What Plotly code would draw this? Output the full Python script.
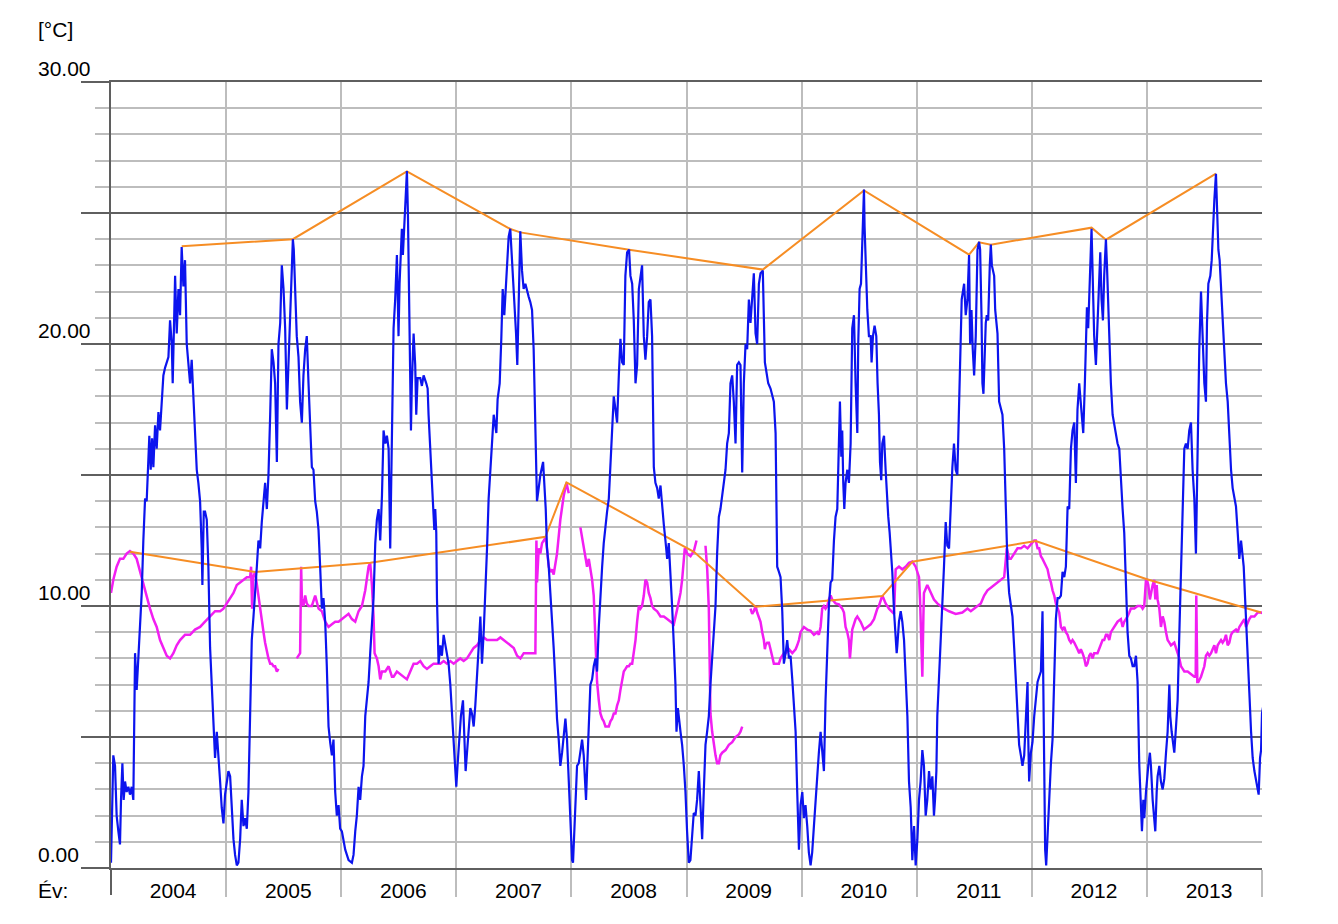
import plotly.graph_objects as go

# daily air temperature (blue) as (decimal year, degC)
air = [
    (2004.000,0.2),(2004.012,2.6),(2004.020,4.3),(2004.035,3.9),(2004.049,2.0),(2004.064,1.4),(2004.078,0.9),(2004.087,2.6),
    (2004.099,4.0),(2004.110,2.6),(2004.122,3.3),(2004.136,2.9),(2004.151,3.1),(2004.165,2.8),(2004.180,3.1),(2004.194,2.6),
    (2004.203,5.2),(2004.209,8.2),(2004.223,6.8),(2004.238,8.2),(2004.252,9.0),(2004.267,10.5),(2004.281,12.5),(2004.296,14.1),
    (2004.310,14.0),(2004.325,16.0),(2004.333,16.5),(2004.345,15.2),(2004.357,16.4),(2004.368,15.3),(2004.383,16.9),(2004.397,16.0),
    (2004.412,17.4),(2004.426,16.7),(2004.441,18.0),(2004.455,18.8),(2004.470,19.1),(2004.484,19.3),(2004.499,19.5),(2004.513,20.9),
    (2004.528,20.0),(2004.536,18.5),(2004.548,20.8),(2004.557,22.6),(2004.571,20.4),(2004.586,22.1),(2004.600,21.1),(2004.614,23.7),
    (2004.629,22.2),(2004.643,23.2),(2004.658,20.0),(2004.672,19.4),(2004.687,18.5),(2004.701,19.4),(2004.716,17.8),(2004.730,16.4),
    (2004.745,15.2),(2004.759,14.7),(2004.774,14.0),(2004.788,12.2),(2004.794,10.8),(2004.806,13.6),(2004.817,13.6),(2004.832,13.3),
    (2004.846,11.5),(2004.861,8.4),(2004.875,7.0),(2004.890,5.8),(2004.904,4.2),(2004.919,5.2),(2004.933,4.4),(2004.948,3.3),
    (2004.962,2.3),(2004.977,1.7),(2004.991,2.8),
    (2005.006,3.4),(2005.020,3.7),(2005.035,3.5),(2005.049,2.1),(2005.064,1.1),(2005.078,0.5),(2005.093,0.1),(2005.107,0.2),
    (2005.122,1.1),(2005.136,2.6),(2005.151,1.6),(2005.165,1.9),(2005.180,1.5),(2005.194,2.9),(2005.209,6.4),(2005.223,8.7),
    (2005.238,9.6),(2005.252,10.4),(2005.267,11.5),(2005.281,12.5),(2005.296,12.2),(2005.310,13.2),(2005.325,14.1),(2005.339,14.7),
    (2005.354,13.7),(2005.368,15.0),(2005.383,17.3),(2005.397,19.8),(2005.412,19.3),(2005.426,18.5),(2005.441,15.5),(2005.455,20.0),
    (2005.470,20.8),(2005.484,23.0),(2005.499,22.1),(2005.513,20.6),(2005.528,17.5),(2005.536,18.5),(2005.557,21.1),(2005.571,23.6),
    (2005.580,24.0),(2005.588,23.6),(2005.600,21.7),(2005.614,20.3),(2005.629,19.5),(2005.643,17.8),(2005.658,17.0),(2005.672,18.8),
    (2005.687,19.8),(2005.701,20.3),(2005.716,18.5),(2005.730,16.9),(2005.745,15.3),(2005.759,15.2),(2005.774,14.0),(2005.788,13.6),
    (2005.803,12.9),(2005.817,11.5),(2005.832,9.9),(2005.846,10.3),(2005.861,9.4),(2005.875,7.7),(2005.890,5.4),(2005.904,4.8),
    (2005.919,4.3),(2005.933,4.9),(2005.948,2.9),(2005.962,2.0),(2005.977,2.4),(2005.991,1.5),
    (2006.006,1.4),(2006.035,0.7),(2006.064,0.3),(2006.093,0.2),(2006.107,0.5),(2006.122,1.4),(2006.136,2.0),(2006.151,3.1),
    (2006.165,2.6),(2006.180,3.5),(2006.194,3.9),(2006.209,5.8),(2006.223,6.4),(2006.238,7.1),(2006.252,8.2),(2006.267,9.2),
    (2006.281,10.3),(2006.296,12.4),(2006.310,13.3),(2006.325,13.7),(2006.339,12.5),(2006.354,14.2),(2006.368,16.7),(2006.383,16.2),
    (2006.397,16.5),(2006.412,16.0),(2006.426,12.2),(2006.455,20.6),(2006.469,21.7),(2006.484,23.4),(2006.490,21.1),(2006.498,20.3),
    (2006.507,22.3),(2006.527,24.4),(2006.536,23.4),(2006.548,24.5),(2006.565,26.1),(2006.571,26.6),(2006.580,24.9),(2006.591,21.1),
    (2006.606,16.7),(2006.614,18.5),(2006.629,20.4),(2006.643,19.2),(2006.652,17.3),(2006.664,18.7),(2006.687,18.7),(2006.701,18.4),
    (2006.716,18.8),(2006.739,18.5),(2006.751,18.3),(2006.759,17.3),(2006.774,16.0),(2006.788,14.7),(2006.803,13.7),(2006.809,12.9),
    (2006.817,13.7),(2006.826,12.8),(2006.832,10.3),(2006.838,8.4),(2006.846,7.8),(2006.861,8.5),(2006.875,8.1),(2006.890,8.9),
    (2006.904,8.5),(2006.919,8.1),(2006.933,7.8),(2006.948,7.0),(2006.962,5.8),(2006.977,4.7),(2006.991,3.7),
    (2007.000,3.1),(2007.012,4.0),(2007.026,4.9),(2007.040,5.8),(2007.058,6.4),(2007.069,5.2),(2007.081,3.7),(2007.093,4.4),
    (2007.107,5.4),(2007.122,6.1),(2007.136,5.9),(2007.151,5.4),(2007.165,6.2),(2007.180,7.6),(2007.194,8.4),(2007.209,9.6),
    (2007.223,7.8),(2007.238,9.0),(2007.252,10.3),(2007.267,12.2),(2007.281,14.1),(2007.296,15.0),(2007.310,16.2),(2007.325,17.3),
    (2007.348,16.6),(2007.359,17.9),(2007.377,18.5),(2007.391,20.2),(2007.403,22.1),(2007.417,21.1),(2007.429,22.2),(2007.440,23.2),
    (2007.455,24.1),(2007.469,24.4),(2007.484,23.2),(2007.498,22.1),(2007.507,21.7),(2007.519,20.4),(2007.530,19.2),(2007.545,23.0),
    (2007.556,24.3),(2007.571,22.8),(2007.585,22.1),(2007.600,22.3),(2007.614,22.0),(2007.629,21.8),(2007.643,21.6),(2007.658,21.3),
    (2007.672,19.8),(2007.681,17.9),(2007.690,15.3),(2007.701,14.0),(2007.716,14.5),(2007.730,15.0),(2007.754,15.5),(2007.765,14.7),
    (2007.777,13.7),(2007.788,12.2),(2007.803,11.5),(2007.817,10.5),(2007.832,9.6),(2007.846,8.4),(2007.861,7.1),(2007.875,5.7),
    (2007.890,4.9),(2007.904,3.9),(2007.919,4.4),(2007.933,5.2),(2007.948,5.7),(2007.962,4.9),(2007.977,3.1),(2007.991,1.4),
    (2008.006,0.3),(2008.014,0.2),(2008.026,1.6),(2008.038,3.0),(2008.049,3.9),(2008.064,4.0),(2008.078,4.4),(2008.093,4.9),
    (2008.107,4.3),(2008.122,2.9),(2008.127,2.6),(2008.136,3.7),(2008.151,5.8),(2008.165,7.0),(2008.180,7.2),(2008.194,7.7),
    (2008.209,8.0),(2008.223,7.5),(2008.238,9.2),(2008.252,10.5),(2008.267,11.5),(2008.281,12.4),(2008.296,13.1),(2008.310,13.6),
    (2008.325,14.1),(2008.339,15.3),(2008.354,16.6),(2008.368,18.0),(2008.383,17.5),(2008.397,17.0),(2008.412,18.8),(2008.426,20.2),
    (2008.441,19.3),(2008.455,19.2),(2008.469,22.6),(2008.484,23.5),(2008.501,23.6),(2008.513,22.6),(2008.528,22.3),(2008.542,20.9),
    (2008.557,18.5),(2008.571,19.2),(2008.586,22.1),(2008.600,22.6),(2008.614,23.0),(2008.629,20.3),(2008.643,19.4),(2008.658,20.3),
    (2008.672,21.6),(2008.687,21.7),(2008.701,20.3),(2008.716,15.3),(2008.730,14.7),(2008.745,14.5),(2008.759,14.1),(2008.774,14.6),
    (2008.788,13.7),(2008.803,13.1),(2008.817,12.5),(2008.832,11.8),(2008.846,12.4),(2008.861,11.3),(2008.875,10.0),(2008.890,8.5),
    (2008.904,7.0),(2008.913,5.2),(2008.925,6.1),(2008.948,5.2),(2008.962,4.7),(2008.977,3.9),(2008.991,2.9),
    (2009.005,1.4),(2009.020,0.2),(2009.034,0.3),(2009.049,1.4),(2009.063,2.1),(2009.078,2.0),(2009.092,2.6),(2009.107,3.7),
    (2009.121,2.3),(2009.136,1.1),(2009.150,2.9),(2009.165,4.7),(2009.179,5.2),(2009.194,5.8),(2009.208,7.0),(2009.223,8.0),
    (2009.237,8.7),(2009.252,10.0),(2009.266,12.0),(2009.281,13.4),(2009.295,13.7),(2009.310,14.3),(2009.324,14.7),(2009.339,15.2),
    (2009.353,16.2),(2009.368,16.6),(2009.382,18.5),(2009.397,18.8),(2009.411,17.8),(2009.426,16.2),(2009.440,19.2),(2009.455,19.3),
    (2009.469,19.2),(2009.484,15.1),(2009.498,18.5),(2009.513,20.0),(2009.527,19.8),(2009.542,21.7),(2009.556,20.8),(2009.571,21.8),
    (2009.585,22.7),(2009.600,20.4),(2009.614,20.0),(2009.629,22.3),(2009.643,22.7),(2009.663,22.8),(2009.672,21.1),(2009.681,19.3),
    (2009.692,19.0),(2009.710,18.5),(2009.730,18.3),(2009.745,18.0),(2009.759,17.8),(2009.774,16.6),(2009.782,13.7),(2009.788,11.5),
    (2009.803,11.3),(2009.817,11.1),(2009.832,9.8),(2009.846,7.8),(2009.861,8.2),(2009.875,8.7),(2009.890,8.0),(2009.904,8.1),
    (2009.919,7.2),(2009.933,6.4),(2009.948,5.2),(2009.962,2.9),(2009.977,0.7),(2009.991,2.4),
    (2010.006,2.9),(2010.020,1.9),(2010.034,2.4),(2010.049,1.6),(2010.063,0.6),(2010.078,0.1),(2010.092,0.6),(2010.107,1.6),
    (2010.121,2.6),(2010.136,3.4),(2010.150,4.4),(2010.165,5.2),(2010.179,4.5),(2010.194,3.7),(2010.208,6.4),(2010.223,8.1),
    (2010.237,10.0),(2010.252,10.9),(2010.266,11.0),(2010.281,12.5),(2010.295,13.4),(2010.310,13.7),(2010.324,16.4),(2010.333,17.8),
    (2010.345,15.7),(2010.353,16.7),(2010.362,14.7),(2010.371,13.7),(2010.382,14.7),(2010.397,15.2),(2010.411,14.7),(2010.426,16.2),
    (2010.440,20.6),(2010.455,21.1),(2010.469,18.5),(2010.484,16.6),(2010.492,20.0),(2010.504,22.1),(2010.516,22.3),(2010.527,24.2),
    (2010.542,25.9),(2010.547,24.5),(2010.556,23.0),(2010.571,21.3),(2010.585,20.3),(2010.600,20.3),(2010.608,19.3),(2010.620,20.3),
    (2010.634,20.7),(2010.649,20.3),(2010.660,18.5),(2010.672,17.3),(2010.681,15.5),(2010.692,14.8),(2010.701,16.2),(2010.716,16.5),
    (2010.730,15.2),(2010.745,13.7),(2010.753,13.4),(2010.765,12.8),(2010.774,12.3),(2010.788,11.3),(2010.803,9.8),(2010.817,8.7),
    (2010.826,8.2),(2010.832,8.5),(2010.846,9.4),(2010.861,9.8),(2010.875,9.4),(2010.890,8.7),(2010.904,7.0),(2010.919,5.8),
    (2010.933,3.3),(2010.948,2.3),(2010.962,0.3),(2010.977,1.6),(2010.991,0.1),
    (2011.006,1.1),(2011.020,2.6),(2011.034,3.3),(2011.049,4.5),(2011.063,3.9),(2011.078,2.0),(2011.092,2.6),(2011.107,3.7),
    (2011.121,3.0),(2011.136,3.5),(2011.150,2.0),(2011.159,2.6),(2011.171,3.7),(2011.179,5.8),(2011.194,7.2),(2011.208,8.4),
    (2011.223,10.3),(2011.237,11.5),(2011.252,13.2),(2011.266,12.3),(2011.281,12.2),(2011.295,14.1),(2011.310,15.3),(2011.324,16.2),
    (2011.339,15.2),(2011.353,15.0),(2011.368,17.9),(2011.382,19.8),(2011.391,21.7),(2011.412,22.3),(2011.426,21.1),(2011.441,21.7),
    (2011.455,23.4),(2011.464,20.0),(2011.476,21.3),(2011.487,19.8),(2011.499,18.8),(2011.513,20.3),(2011.528,23.6),(2011.542,23.9),
    (2011.551,23.6),(2011.563,21.1),(2011.571,18.5),(2011.580,18.1),(2011.592,20.3),(2011.600,20.8),(2011.609,21.1),(2011.621,20.9),
    (2011.635,23.0),(2011.644,23.8),(2011.653,23.0),(2011.664,22.8),(2011.673,22.6),(2011.682,21.3),(2011.690,20.8),(2011.702,20.4),
    (2011.716,17.8),(2011.731,17.5),(2011.745,17.3),(2011.760,16.0),(2011.774,13.7),(2011.789,11.5),(2011.803,10.5),(2011.818,10.0),
    (2011.832,9.6),(2011.847,8.4),(2011.861,7.0),(2011.876,5.8),(2011.890,4.7),(2011.905,4.3),(2011.919,3.9),(2011.934,4.3),
    (2011.948,5.8),(2011.957,7.0),(2011.963,7.1),(2011.968,5.2),(2011.977,3.3),(2011.992,4.4),
    (2012.006,4.8),(2012.021,5.8),(2012.035,6.4),(2012.050,7.1),(2012.064,7.3),(2012.079,7.5),(2012.093,9.8),(2012.102,5.2),
    (2012.108,2.6),(2012.116,0.7),(2012.125,0.1),(2012.137,1.4),(2012.151,2.6),(2012.166,4.0),(2012.180,4.9),(2012.195,7.7),
    (2012.209,9.5),(2012.224,10.3),(2012.238,10.3),(2012.253,10.4),(2012.267,11.3),(2012.282,11.1),(2012.296,11.5),(2012.311,13.8),
    (2012.325,13.7),(2012.340,16.0),(2012.354,16.7),(2012.369,17.0),(2012.383,14.7),(2012.397,17.5),(2012.412,18.5),(2012.421,18.0),
    (2012.432,17.3),(2012.447,16.6),(2012.461,18.5),(2012.470,20.3),(2012.479,21.4),(2012.490,20.6),(2012.502,22.3),(2012.519,24.4),
    (2012.534,21.7),(2012.542,20.3),(2012.557,19.2),(2012.571,21.1),(2012.586,23.0),(2012.595,23.5),(2012.606,21.7),(2012.618,20.9),
    (2012.629,22.6),(2012.644,24.0),(2012.653,23.0),(2012.664,21.3),(2012.676,19.8),(2012.687,18.5),(2012.702,17.3),(2012.716,16.9),
    (2012.731,16.5),(2012.745,16.2),(2012.760,16.0),(2012.774,14.7),(2012.789,13.7),(2012.803,12.8),(2012.818,10.9),(2012.832,9.0),
    (2012.847,8.1),(2012.861,8.0),(2012.876,7.7),(2012.890,7.7),(2012.905,8.1),(2012.919,7.1),(2012.934,3.9),(2012.948,2.0),
    (2012.957,1.4),(2012.969,2.6),(2012.977,1.9),(2012.992,2.9),
    (2013.000,3.4),(2013.012,3.9),(2013.026,4.4),(2013.035,3.9),(2013.050,2.6),(2013.064,1.9),(2013.073,1.4),(2013.085,2.9),
    (2013.093,3.5),(2013.108,3.9),(2013.122,3.3),(2013.137,3.0),(2013.151,3.4),(2013.166,4.4),(2013.180,5.2),(2013.195,7.0),
    (2013.203,5.8),(2013.215,5.2),(2013.226,4.7),(2013.238,4.4),(2013.253,5.4),(2013.267,6.4),(2013.282,9.0),(2013.296,11.5),
    (2013.311,14.1),(2013.325,16.0),(2013.339,16.2),(2013.354,16.0),(2013.368,16.7),(2013.383,17.0),(2013.397,15.2),(2013.412,14.1),
    (2013.426,12.0),(2013.441,17.0),(2013.455,19.8),(2013.470,22.0),(2013.484,20.3),(2013.499,18.5),(2013.513,17.8),(2013.522,20.8),
    (2013.534,22.3),(2013.551,22.6),(2013.563,23.2),(2013.574,24.5),(2013.586,25.5),(2013.600,26.5),(2013.609,25.3),(2013.621,23.6),
    (2013.632,23.2),(2013.644,22.1),(2013.658,21.1),(2013.673,20.0),(2013.687,18.5),(2013.702,17.8),(2013.716,16.5),(2013.731,15.2),
    (2013.745,14.5),(2013.760,14.2),(2013.774,13.8),(2013.789,12.8),(2013.803,11.8),(2013.818,12.5),(2013.832,11.9),(2013.841,11.5),
    (2013.853,10.3),(2013.864,9.0),(2013.876,8.1),(2013.890,6.7),(2013.905,5.2),(2013.919,4.2),(2013.934,3.7),(2013.948,3.4),
    (2013.963,3.1),(2013.971,2.8),(2013.983,4.2),(2013.992,4.5),(2014.000,5.9),(2014.020,6.5),(2014.050,7.2),
]

# water temperature (magenta); None = gap in the record
water = [
    (2004.000,10.5),(2004.020,11.0),(2004.049,11.5),(2004.078,11.8),(2004.107,11.8),(2004.136,12.0),(2004.165,12.1),(2004.194,12.0),
    (2004.223,11.8),(2004.252,11.3),(2004.281,10.8),(2004.310,10.4),(2004.339,9.9),(2004.368,9.5),(2004.397,9.2),(2004.426,8.7),
    (2004.455,8.4),(2004.484,8.1),(2004.513,8.0),(2004.542,8.2),(2004.571,8.5),(2004.600,8.7),(2004.643,8.9),(2004.687,8.9),
    (2004.730,9.1),(2004.774,9.2),(2004.817,9.4),(2004.861,9.6),(2004.904,9.8),(2004.948,9.8),(2004.977,9.9),(2005.006,10.1),
    (2005.035,10.3),(2005.064,10.5),(2005.093,10.8),(2005.122,10.9),(2005.151,11.0),(2005.180,11.1),(2005.209,11.1),(2005.217,11.5),
    (2005.226,9.9),(2005.235,11.1),(2005.252,11.3),(2005.267,10.8),(2005.281,10.3),(2005.296,9.9),(2005.310,9.4),(2005.325,9.0),
    (2005.339,8.6),(2005.354,8.2),(2005.368,8.0),(2005.383,7.8),(2005.397,7.8),(2005.412,7.7),(2005.426,7.7),(2005.441,7.5),
    (2005.455,7.6),(2005.500,None),
    (2005.614,8.0),(2005.629,8.1),(2005.643,8.2),(2005.652,11.5),(2005.658,10.3),(2005.672,10.0),(2005.687,10.4),(2005.701,10.1),
    (2005.716,10.0),(2005.745,10.0),(2005.774,10.4),(2005.803,9.9),(2005.832,9.8),(2005.861,9.4),(2005.890,9.2),(2005.919,9.3),
    (2005.948,9.4),(2005.977,9.4),(2006.006,9.5),(2006.035,9.6),(2006.064,9.7),(2006.093,9.5),(2006.122,9.4),(2006.151,9.8),
    (2006.180,10.0),(2006.209,10.6),(2006.238,11.5),(2006.252,11.65),(2006.267,10.8),(2006.281,9.6),(2006.290,8.2),(2006.310,8.0),
    (2006.325,7.7),(2006.339,7.2),(2006.354,7.5),(2006.383,7.5),(2006.412,7.7),(2006.441,7.3),(2006.455,7.3),(2006.484,7.5),
    (2006.513,7.4),(2006.542,7.3),(2006.571,7.2),(2006.600,7.5),(2006.629,7.8),(2006.658,7.8),(2006.687,7.9),(2006.716,7.7),
    (2006.745,7.6),(2006.774,7.7),(2006.803,7.8),(2006.832,7.8),(2006.861,7.8),(2006.890,7.9),(2006.919,7.8),(2006.948,7.9),
    (2006.977,7.8),(2007.006,7.9),(2007.035,8.0),(2007.064,7.9),(2007.093,8.0),(2007.122,8.2),(2007.151,8.4),(2007.180,8.5),
    (2007.209,8.7),(2007.238,8.8),(2007.267,8.7),(2007.296,8.7),(2007.325,8.7),(2007.354,8.7),(2007.383,8.8),(2007.412,8.7),
    (2007.441,8.6),(2007.470,8.5),(2007.499,8.4),(2007.528,8.1),(2007.557,8.0),(2007.586,8.2),(2007.614,8.2),(2007.643,8.2),
    (2007.687,8.2),(2007.696,12.5),(2007.701,10.9),(2007.716,12.2),(2007.730,12.0),(2007.745,12.4),(2007.759,12.5),(2007.774,12.6),
    (2007.788,12.2),(2007.803,11.5),(2007.817,11.3),(2007.832,11.4),(2007.846,11.2),(2007.875,12.0),(2007.904,13.3),(2007.933,14.2),
    (2007.957,14.7),(2007.977,14.3),(2008.020,None),
    (2008.078,13.0),(2008.107,12.3),(2008.136,11.5),(2008.151,11.8),(2008.165,11.4),(2008.180,11.0),(2008.194,10.4),(2008.209,8.4),
    (2008.223,7.1),(2008.238,6.4),(2008.252,5.9),(2008.267,5.7),(2008.281,5.6),(2008.296,5.4),(2008.310,5.4),(2008.325,5.4),
    (2008.339,5.6),(2008.354,5.7),(2008.368,5.9),(2008.383,5.9),(2008.397,6.2),(2008.412,6.4),(2008.426,6.8),(2008.441,7.2),
    (2008.455,7.5),(2008.470,7.6),(2008.484,7.7),(2008.499,7.7),(2008.513,7.8),(2008.528,7.8),(2008.542,8.2),(2008.557,8.7),
    (2008.571,9.4),(2008.586,10.0),(2008.600,9.9),(2008.614,10.0),(2008.629,10.4),(2008.643,11.0),(2008.658,10.9),(2008.672,10.5),
    (2008.687,10.3),(2008.701,10.0),(2008.716,9.9),(2008.745,9.8),(2008.774,9.6),(2008.803,9.6),(2008.832,9.5),(2008.861,9.4),
    (2008.890,9.3),(2008.920,9.9),(2008.948,10.5),(2008.962,11.0),(2008.985,12.2),(2009.006,12.0),(2009.035,11.9),(2009.064,12.1),
    (2009.087,12.5),(2009.120,None),
    (2009.165,12.3),(2009.180,11.4),(2009.194,9.9),(2009.208,5.9),(2009.223,5.2),(2009.237,4.7),(2009.252,4.3),(2009.266,4.0),
    (2009.281,4.0),(2009.295,4.3),(2009.310,4.4),(2009.339,4.5),(2009.368,4.7),(2009.397,4.8),(2009.426,5.0),(2009.455,5.1),
    (2009.469,5.2),(2009.484,5.4),(2009.520,None),
    (2009.556,9.9),(2009.571,9.7),(2009.585,9.8),(2009.600,10.0),(2009.614,9.75),(2009.629,9.6),(2009.643,9.4),(2009.658,9.0),
    (2009.672,8.7),(2009.681,8.35),(2009.687,8.5),(2009.701,8.6),(2009.716,8.6),(2009.730,8.35),(2009.745,8.1),(2009.759,7.8),
    (2009.774,7.8),(2009.788,7.8),(2009.803,7.8),(2009.817,8.0),(2009.832,8.1),(2009.846,8.2),(2009.861,8.2),(2009.890,8.35),
    (2009.919,8.2),(2009.948,8.35),(2009.962,8.5),(2009.977,8.7),(2009.991,9.0),(2010.020,9.2),(2010.049,9.1),(2010.078,9.05),
    (2010.107,8.9),(2010.136,9.0),(2010.150,8.9),(2010.165,9.2),(2010.179,9.9),(2010.194,10.0),(2010.208,9.9),(2010.223,10.0),
    (2010.237,10.25),(2010.252,10.4),(2010.266,10.25),(2010.295,10.1),(2010.324,10.06),(2010.353,9.9),(2010.368,9.75),(2010.382,9.2),
    (2010.397,9.0),(2010.411,8.7),(2010.420,8.0),(2010.429,8.7),(2010.440,9.1),(2010.469,9.5),(2010.484,9.6),(2010.513,9.4),
    (2010.542,9.1),(2010.571,9.2),(2010.600,9.3),(2010.629,9.5),(2010.643,9.75),(2010.658,9.9),(2010.672,10.0),(2010.687,10.25),
    (2010.701,10.4),(2010.716,10.25),(2010.730,10.1),(2010.759,9.9),(2010.788,9.75),(2010.803,9.7),(2010.817,11.4),(2010.846,11.5),
    (2010.875,11.4),(2010.904,11.5),(2010.933,11.65),(2010.962,11.7),(2010.991,11.5),(2011.006,11.3),(2011.020,11.1),(2011.029,10.25),
    (2011.040,9.0),(2011.049,7.3),(2011.058,9.6),(2011.063,10.5),(2011.092,10.8),(2011.121,10.5),(2011.150,10.25),(2011.179,10.1),
    (2011.208,10.0),(2011.237,9.9),(2011.281,9.8),(2011.310,9.75),(2011.339,9.7),(2011.397,9.75),(2011.441,9.9),(2011.470,9.8),
    (2011.499,9.9),(2011.528,10.0),(2011.557,10.1),(2011.586,10.4),(2011.615,10.6),(2011.644,10.7),(2011.673,10.8),(2011.702,10.9),
    (2011.731,11.0),(2011.760,11.1),(2011.783,12.2),(2011.803,11.8),(2011.818,11.8),(2011.847,12.0),(2011.876,12.2),(2011.905,12.2),
    (2011.934,12.3),(2011.963,12.2),(2011.992,12.35),(2012.021,12.5),(2012.035,12.5),(2012.050,12.2),(2012.064,12.2),(2012.079,11.9),
    (2012.093,11.8),(2012.108,11.65),(2012.122,11.5),(2012.137,11.4),(2012.151,11.1),(2012.166,10.9),(2012.180,10.6),(2012.195,10.4),
    (2012.209,10.1),(2012.224,9.9),(2012.238,9.75),(2012.253,9.2),(2012.267,9.1),(2012.282,9.2),(2012.296,9.0),(2012.311,8.9),
    (2012.325,8.7),(2012.340,8.6),(2012.354,8.7),(2012.369,8.6),(2012.383,8.5),(2012.397,8.35),(2012.412,8.2),(2012.426,8.35),
    (2012.441,8.2),(2012.456,8.0),(2012.470,7.7),(2012.484,7.8),(2012.499,8.1),(2012.513,8.2),(2012.528,8.0),(2012.542,8.2),
    (2012.571,8.2),(2012.586,8.35),(2012.600,8.5),(2012.615,8.7),(2012.629,8.7),(2012.644,8.9),(2012.658,8.9),(2012.673,8.7),
    (2012.687,9.0),(2012.702,9.1),(2012.716,9.2),(2012.745,9.4),(2012.774,9.5),(2012.789,9.2),(2012.803,9.4),(2012.818,9.5),
    (2012.832,9.6),(2012.847,9.75),(2012.861,9.9),(2012.890,9.9),(2012.919,10.0),(2012.948,10.0),(2012.963,9.9),(2012.977,10.0),
    (2012.992,11.0),(2013.000,11.0),(2013.012,10.8),(2013.026,10.25),(2013.035,10.5),(2013.050,10.8),(2013.064,11.0),(2013.073,10.25),
    (2013.085,10.8),(2013.093,10.25),(2013.108,9.9),(2013.122,9.2),(2013.137,9.6),(2013.151,9.4),(2013.166,9.0),(2013.180,8.7),
    (2013.195,8.6),(2013.209,8.5),(2013.238,8.6),(2013.253,8.35),(2013.267,8.2),(2013.282,8.0),(2013.296,7.7),(2013.311,7.6),
    (2013.325,7.5),(2013.354,7.5),(2013.383,7.4),(2013.412,7.3),(2013.424,7.3),(2013.429,10.4),(2013.438,7.1),(2013.447,7.1),
    (2013.470,7.3),(2013.484,7.5),(2013.499,7.7),(2013.513,8.1),(2013.528,8.2),(2013.542,8.1),(2013.557,8.2),(2013.571,8.35),
    (2013.586,8.5),(2013.600,8.2),(2013.615,8.5),(2013.629,8.6),(2013.644,8.7),(2013.658,8.6),(2013.673,8.7),(2013.687,8.9),
    (2013.702,8.5),(2013.716,8.6),(2013.731,8.9),(2013.745,9.0),(2013.774,9.1),(2013.789,9.0),(2013.803,9.2),(2013.832,9.4),
    (2013.847,9.5),(2013.861,9.2),(2013.876,9.4),(2013.890,9.5),(2013.905,9.6),(2013.934,9.6),(2013.963,9.75),(2013.992,9.75),
    (2014.020,9.7),
]

# orange envelopes through the yearly maxima
air_max = [(2004.614,23.73),(2005.580,24.0),(2006.571,26.59),(2007.469,24.39),(2007.556,24.26),(2008.501,23.6),
           (2009.663,22.84),(2010.542,25.86),(2011.455,23.41),(2011.542,23.88),(2011.644,23.79),(2012.519,24.44),
           (2012.644,23.98),(2013.600,26.50)]
water_max = [(2004.165,12.07),(2005.252,11.30),(2006.252,11.65),(2007.774,12.64),(2007.957,14.72),(2009.064,12.07),
             (2009.600,9.97),(2010.701,10.38),(2010.962,11.69),(2012.035,12.48),(2013.000,11.02),(2013.992,9.75)]

years = list(range(2004, 2014))
y_major = [0, 5, 10, 15, 20, 25, 30]
y_labels = {0: '0.00', 10: '10.00', 20: '20.00', 30: '30.00'}

FONT = 'Liberation Sans, Arial, sans-serif'
DARK = '#5f5f5f'
LIGHT = '#bdbdbd'
W, H = 1338, 924
ML, MR, MT, MB = 111, 76, 82, 56
PH = H - MT - MB
PW = W - ML - MR


def xs(pts):
    return [p[0] for p in pts]


def ys(pts):
    return [p[1] for p in pts]


fig = go.Figure()
fig.add_trace(go.Scatter(x=xs(water), y=ys(water), mode='lines', connectgaps=False,
                         line=dict(color='#f21ef2', width=2.5), hoverinfo='skip'))
fig.add_trace(go.Scatter(x=xs(air_max), y=ys(air_max), mode='lines',
                         line=dict(color='#f68d24', width=2), hoverinfo='skip'))
fig.add_trace(go.Scatter(x=xs(water_max), y=ys(water_max), mode='lines',
                         line=dict(color='#f68d24', width=2), hoverinfo='skip'))
fig.add_trace(go.Scatter(x=xs(air), y=ys(air), mode='lines',
                         line=dict(color='#0c14ee', width=2.2), hoverinfo='skip'))

label_font = dict(family=FONT, size=21, color='black')
annotations = []
for v, txt in y_labels.items():
    annotations.append(dict(xref='paper', yref='y', x=(36 - ML) / PW, y=v,
                            xanchor='left', yanchor='bottom', text=txt, showarrow=False,
                            font=label_font))
annotations.append(dict(xref='paper', yref='paper', x=(36 - ML) / PW, y=(PH + 52) / PH,
                        xanchor='left', yanchor='middle', text='[°C]', showarrow=False,
                        font=label_font))
annotations.append(dict(xref='paper', yref='paper', x=(36 - ML) / PW, y=-22 / PH,
                        xanchor='left', yanchor='middle', text='Év:', showarrow=False,
                        font=label_font))

fig.update_layout(
    width=W, height=H,
    margin=dict(l=ML, r=MR, t=MT, b=MB),
    paper_bgcolor='white', plot_bgcolor='white',
    showlegend=False,
    font=dict(family=FONT, size=21, color='black'),
    annotations=annotations,
    shapes=[dict(type='line', xref='paper', yref='paper', x0=0, x1=0, y0=-27 / PH, y1=0,
                 line=dict(color=DARK, width=2))],
)
fig.update_xaxes(
    range=[2004, 2014], showgrid=False, zeroline=False,
    tickmode='array', tickvals=[y + 0.54 for y in years], ticktext=[str(y) for y in years],
    ticks='', ticklabelstandoff=3,
    showline=True, linecolor=DARK, linewidth=2, mirror=True,
    minor=dict(tickmode='array', tickvals=[y + 1 for y in years], ticks='outside', ticklen=27,
               tickwidth=2, tickcolor=LIGHT, showgrid=True, gridcolor=LIGHT, gridwidth=2),
)
fig.update_yaxes(
    range=[0, 30], zeroline=False,
    tickmode='array', tickvals=y_major, showticklabels=False,
    ticks='outside', ticklen=28, tickwidth=2, tickcolor=DARK,
    showgrid=True, gridcolor=DARK, gridwidth=2,
    showline=True, linecolor=DARK, linewidth=2,
    minor=dict(tick0=0, dtick=1, ticks='outside', ticklen=14, tickwidth=2, tickcolor=LIGHT,
               showgrid=True, gridcolor=LIGHT, gridwidth=2),
)

# the page body has a default 8px margin; drop it so the chart sits at the window origin
fig.write_html('out.html', config={'displayModeBar': False},
               post_script="document.body.style.margin='0';")
